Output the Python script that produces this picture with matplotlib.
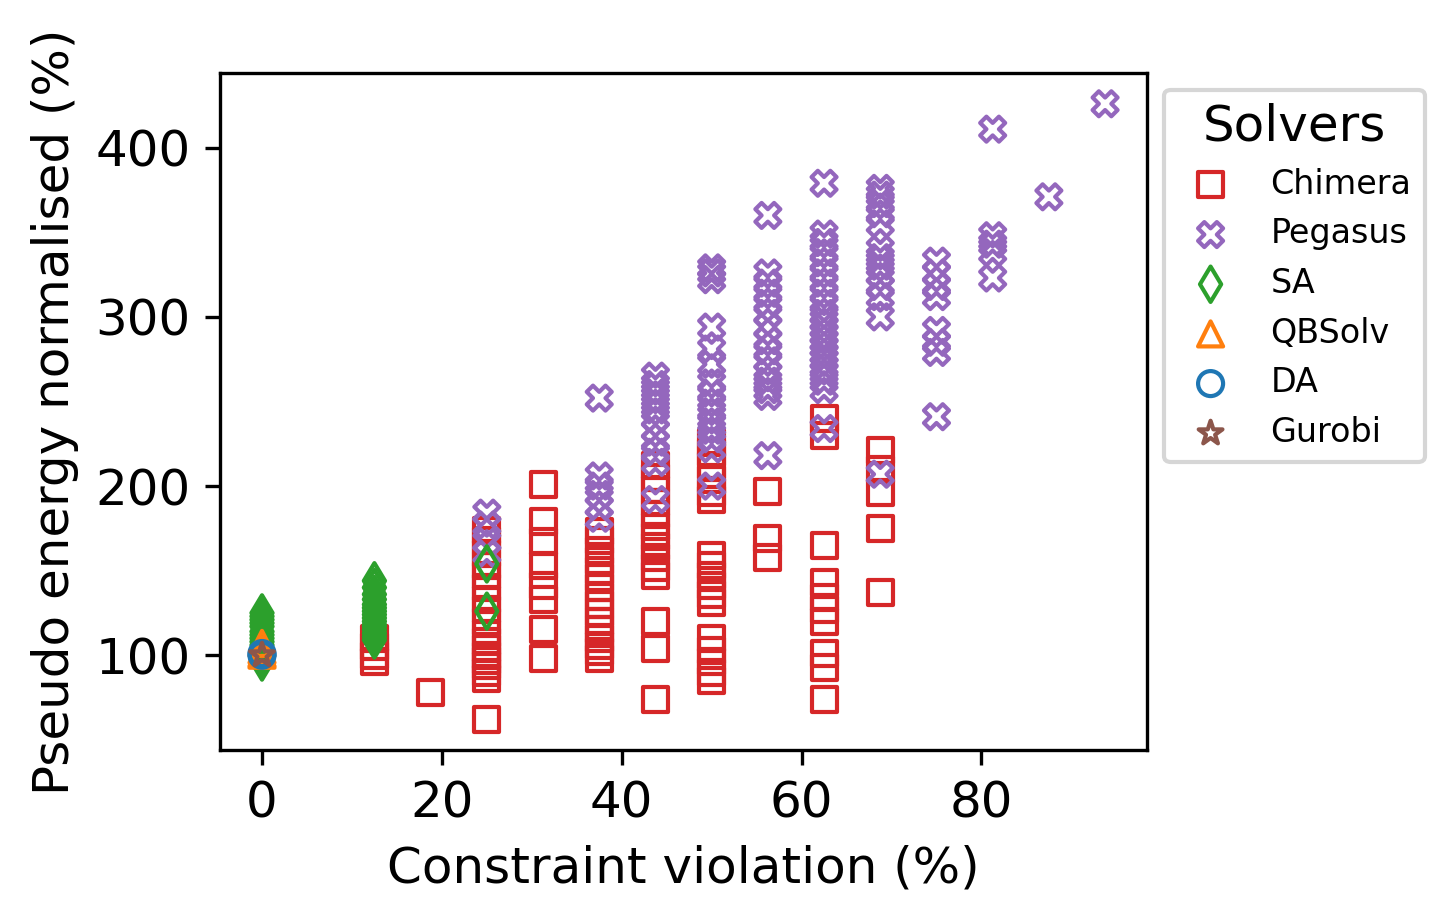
"""Pseudo energy vs constraint violation, one scatter layer per solver."""

import matplotlib
matplotlib.use("Agg")
import matplotlib.pyplot as plt

# x = constraint violation (%), y = pseudo energy normalised (%)
chimera_x = ([12.5] * 4 + [18.75] + [25] * 18 + [31.25] * 8 + [37.5] * 16
             + [43.75] * 14 + [50] * 17 + [56.25] * 3 + [62.5] * 10 + [68.75] * 5)
chimera_y = [96, 100, 105, 110,
             78,
             174, 168, 160, 153, 147, 140, 133, 127, 120, 113, 108, 104, 100, 97, 94, 90, 86, 62,
             201, 179, 167, 153, 141, 133, 115, 98,
             173, 168, 162, 156, 150, 146, 140, 135, 130, 125, 120, 115, 110, 106, 102, 98,
             212, 205, 198, 190, 183, 176, 170, 164, 158, 152, 147, 120, 104, 74,
             226, 220, 212, 204, 196, 192, 159, 153, 147, 141, 136, 131, 110, 103, 96, 90, 85,
             197, 169, 158,
             240, 230, 165, 143, 134, 127, 120, 101, 93, 74,
             221, 210, 196, 175, 137]

pegasus_x = ([25] * 4 + [37.5] * 6 + [43.75] * 11 + [50] * 15 + [56.25] * 15
             + [62.5] * 22 + [68.75] * 13 + [75] * 8 + [81.25] * 5 + [87.5] + [93.75])
pegasus_y = [184, 177, 167, 160,
             252, 206, 200, 195, 188, 181,
             265, 260, 255, 250, 245, 240, 233, 226, 220, 214, 192,
             329, 326, 322, 294, 281, 272, 261, 255, 249, 244, 238, 233, 228, 222, 200,
             360, 326, 320, 314, 308, 302, 294, 286, 280, 274, 267, 262, 257, 253, 218,
             379, 349, 344, 338, 332, 326, 320, 314, 308, 302, 298, 294, 290, 286, 282,
             278, 275, 271, 267, 262, 257, 234,
             376, 372, 367, 361, 355, 340, 335, 330, 325, 318, 312, 300, 207,
             333, 326, 318, 312, 292, 285, 279, 241,
             411, 348, 343, 338, 323,
             371,
             426]

sa_x = [0] * 15 + [12.5] * 16 + [25] * 2
sa_y = [96, 98, 100, 102, 104, 106, 108, 110, 112, 114, 117, 119, 121, 123, 125,
        109, 111, 113, 115, 117, 118, 120, 122, 124, 126, 128, 130, 133, 136, 140, 144,
        154, 126]

qbsolv_x = [0, 0, 0, 0]
qbsolv_y = [100, 101, 103, 107]

da_x = [0, 0]
da_y = [100, 101]

gurobi_x = [0]
gurobi_y = [100]

solvers = [
    ("Chimera", chimera_x, chimera_y, "s", "tab:red"),
    ("Pegasus", pegasus_x, pegasus_y, "X", "tab:purple"),
    ("SA", sa_x, sa_y, "d", "tab:green"),
    ("QBSolv", qbsolv_x, qbsolv_y, "^", "tab:orange"),
    ("DA", da_x, da_y, "o", "tab:blue"),
    ("Gurobi", gurobi_x, gurobi_y, "*", "tab:brown"),
]

plt.rcParams["font.size"] = 12
fig, ax = plt.subplots(figsize=(4.853, 3.08), dpi=300)
fig.subplots_adjust(left=0.151, right=0.788, top=0.921, bottom=0.188)

for name, xs, ys, mk, col in solvers:
    ax.scatter(xs, ys, marker=mk, facecolors="none", edgecolors=col, label=name)

ax.set_xlabel("Constraint violation (%)")
ax.set_ylabel("Pseudo energy normalised (%)")
ax.legend(title="Solvers", loc="upper left", bbox_to_anchor=(1.0, 1.0),
          fontsize=8, title_fontsize=12)

fig.savefig("out.png", dpi=300)
